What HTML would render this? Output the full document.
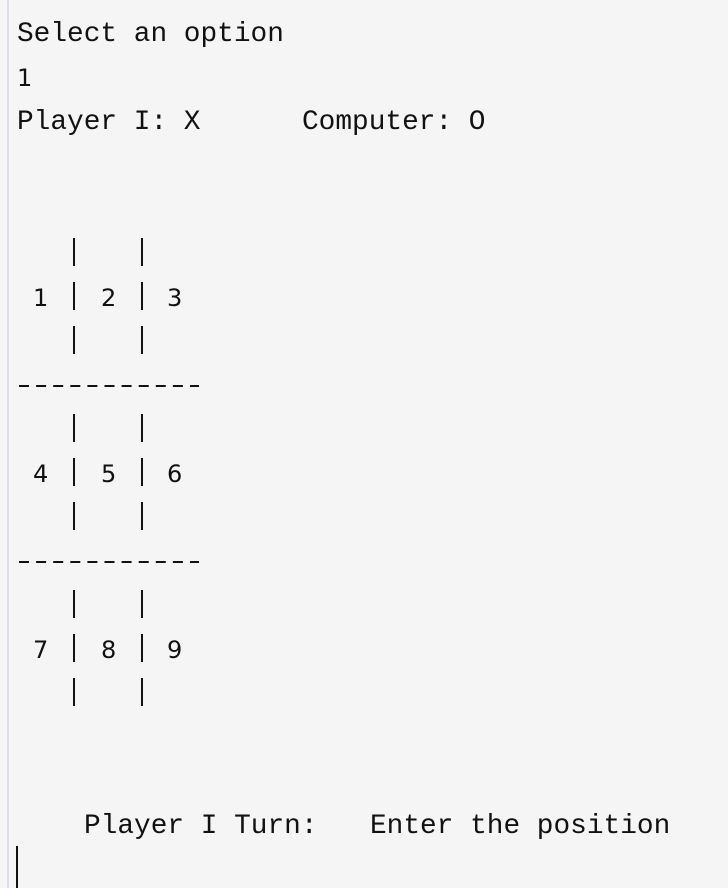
<!DOCTYPE html>
<html><head><meta charset="utf-8"><style>
html,body{margin:0;padding:0}
body{width:728px;height:888px;background:#f5f5f5;position:relative;overflow:hidden;color:#111}
.b{position:absolute;left:7px;top:0;width:2px;height:888px;background:#dde0ec}
.m{position:absolute;font-family:"Liberation Mono","DejaVu Sans Mono",monospace;font-size:27.8px;line-height:44px;white-space:pre}
.s{position:absolute;font-family:"DejaVu Sans","Liberation Sans",sans-serif;font-size:24px;line-height:44px;white-space:pre}
.bar{position:absolute;width:2px;height:28px;background:#111}
.cur{position:absolute;left:16px;top:846px;width:2px;height:42px;background:#111}
</style></head><body>
<div class="b"></div>
<div class="m" style="left:17px;top:13px">Select an option</div>
<div class="s" style="left:17px;top:56px">1</div>
<div class="m" style="left:17px;top:101px">Player I: X</div>
<div class="m" style="left:302px;top:101px">Computer: O</div>

<div class="bar" style="left:73px;top:238px"></div><div class="bar" style="left:141px;top:238px"></div>
<div class="s" style="left:33px;top:276px">1</div>
<div class="bar" style="left:73px;top:282px"></div>
<div class="s" style="left:101px;top:276px">2</div>
<div class="bar" style="left:141px;top:282px"></div>
<div class="s" style="left:167px;top:276px">3</div>
<div class="bar" style="left:73px;top:326px"></div><div class="bar" style="left:141px;top:326px"></div>

<div class="bar" style="left:73px;top:414px"></div><div class="bar" style="left:141px;top:414px"></div>
<div class="s" style="left:33px;top:452px">4</div>
<div class="bar" style="left:73px;top:458px"></div>
<div class="s" style="left:101px;top:452px">5</div>
<div class="bar" style="left:141px;top:458px"></div>
<div class="s" style="left:167px;top:452px">6</div>
<div class="bar" style="left:73px;top:502px"></div><div class="bar" style="left:141px;top:502px"></div>

<div class="bar" style="left:73px;top:590px"></div><div class="bar" style="left:141px;top:590px"></div>
<div class="s" style="left:33px;top:628px">7</div>
<div class="bar" style="left:73px;top:634px"></div>
<div class="s" style="left:101px;top:628px">8</div>
<div class="bar" style="left:141px;top:634px"></div>
<div class="s" style="left:167px;top:628px">9</div>
<div class="bar" style="left:73px;top:678px"></div><div class="bar" style="left:141px;top:678px"></div>

<svg style="position:absolute;left:0;top:0" width="728" height="888">
<g stroke="#111" stroke-width="2">
<line x1="19" y1="386" x2="199" y2="386" stroke-dasharray="10 7.1"/>
<line x1="19" y1="562" x2="199" y2="562" stroke-dasharray="10 7.1"/>
</g></svg>

<div class="m" style="left:84px;top:805px">Player I Turn:</div>
<div class="m" style="left:370px;top:805px">Enter the position</div>
<div class="cur"></div>
</body></html>
